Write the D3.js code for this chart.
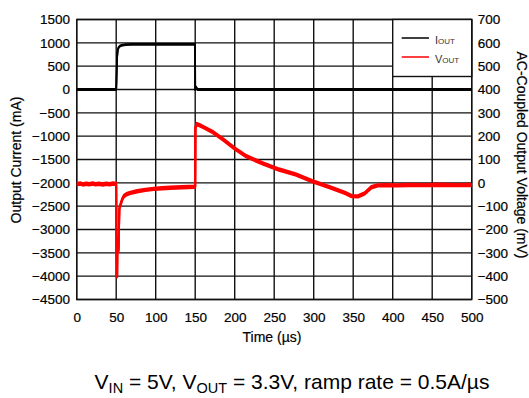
<!DOCTYPE html>
<html>
<head>
<meta charset="utf-8">
<script src="https://cdn.jsdelivr.net/npm/d3@7"></script>
<style>
  html, body { margin: 0; padding: 0; background: #fff; }
  svg { display: block; font-family: "Liberation Sans", Arial, sans-serif; }
</style>
</head>
<body>
<svg id="chart" width="529" height="398"></svg>
<script>
// Axis tick values
const timeTicks = [0, 50, 100, 150, 200, 250, 300, 350, 400, 450, 500];
const currentTicks = [1500, 1000, 500, 0, -500, -1000, -1500, -2000, -2500, -3000, -3500, -4000, -4500];
const voltageTicks = [700, 600, 500, 400, 300, 200, 100, 0, -100, -200, -300, -400, -500];

// Load current I_OUT (mA) versus time (µs)
const ioutTime  = [0, 50, 50.3, 50.8, 51.2, 51.8, 52.5, 53.5, 55, 58, 62, 70, 149.8, 150, 150.6, 151.5, 153, 500];
const ioutValue = [0, 0, 150, 500, 700, 820, 880, 910, 935, 950, 960, 965, 965, 0, 60, 40, 0, 0];

// AC-coupled output voltage V_OUT (mV) versus time (µs)
const voutTime = [
  0, 5, 8, 12, 16, 20, 24, 28, 33, 37, 42, 46, 49.8,
  50, 50.3, 50.6, 51.2, 51.6, 52.2, 53, 53.5, 54, 55.5, 57.5, 59.7, 63, 68, 76.5, 87, 97.5, 108, 118.5, 133, 149.8,
  150, 150.3, 152, 156, 162, 173, 185.4, 200, 214.6, 235.4, 256, 277, 298, 319, 339.6, 348, 356, 364.6, 373, 381,
  390, 406, 420, 440, 460, 480, 500
];
const voutValue = [
  -5, -3, -7, -4, -6, -3, -6, -4, -7, -4, -6, -3, -5,
  -5, -250, -400, -400, -240, -280, -290, -200, -110, -93, -72, -57, -49, -43, -36, -30, -26, -23, -21, -19, -17,
  -17, 238, 252, 246, 236, 216, 186, 147, 114, 83, 57, 36, 7, -17, -43, -57, -58, -45, -19, -11,
  -10, -11, -9, -10, -8, -10, -9
];

const caption = [
  { text: "V", sub: false }, { text: "IN", sub: true },
  { text: " = 5V, V", sub: false }, { text: "OUT", sub: true },
  { text: " = 3.3V, ramp rate = 0.5A/\u00b5s", sub: false }
];

const svg = d3.select("#chart");
const plotLeft = 76.7, plotRight = 471.7, plotTop = 19.5, plotBottom = 299.5;
const gridColor = "#111";
const fontFamily = "\"Liberation Sans\", Arial, sans-serif";

const x  = d3.scaleLinear().domain([0, 500]).range([plotLeft, plotRight]);
const yI = d3.scaleLinear().domain([-4500, 1500]).range([plotBottom, plotTop]);
const yV = d3.scaleLinear().domain([-500, 700]).range([plotBottom, plotTop]);

// Grid
const grid = svg.append("g").attr("stroke", gridColor).attr("stroke-width", 1.4);
grid.selectAll("line.v").data(timeTicks).join("line").attr("class", "v")
  .attr("x1", d => x(d)).attr("x2", d => x(d)).attr("y1", plotTop).attr("y2", plotBottom);
grid.selectAll("line.h").data(currentTicks).join("line").attr("class", "h")
  .attr("x1", plotLeft).attr("x2", plotRight).attr("y1", d => yI(d)).attr("y2", d => yI(d));
grid.append("rect").attr("x", plotLeft).attr("y", plotTop)
  .attr("width", plotRight - plotLeft).attr("height", plotBottom - plotTop).attr("fill", "none");

// Axes (labels only)
function styleAxis(g) {
  g.select(".domain").remove();
  g.attr("font-size", 13.5).attr("font-family", fontFamily);
  g.selectAll("text").attr("fill", "#000").attr("stroke", "#000").attr("stroke-width", 0.2);
}
svg.append("g").attr("transform", `translate(${plotLeft},0)`)
  .call(d3.axisLeft(yI).tickValues(currentTicks).tickSize(0).tickPadding(6.7).tickFormat(d3.format("d")))
  .call(styleAxis);
svg.append("g").attr("transform", `translate(${plotRight},0)`)
  .call(d3.axisRight(yV).tickValues(voltageTicks).tickSize(0).tickPadding(6).tickFormat(d3.format("d")))
  .call(styleAxis);
svg.append("g").attr("transform", `translate(0,${plotBottom})`)
  .call(d3.axisBottom(x).tickValues(timeTicks).tickSize(0).tickPadding(13).tickFormat(d3.format("d")))
  .call(styleAxis);

// Axis titles
const titleStyle = t => t.attr("text-anchor", "middle").attr("font-size", 14)
  .attr("stroke", "#000").attr("stroke-width", 0.2);
svg.append("text").attr("x", 272).attr("y", 342).text("Time (\u00b5s)").call(titleStyle);
svg.append("text").attr("transform", "translate(21,160) rotate(-90)").text("Output Current (mA)").call(titleStyle);
svg.append("text").attr("transform", "translate(516.7,155) rotate(90)").text("AC-Coupled Output Voltage (mV)").call(titleStyle);

// Traces
const ioutLine = d3.line().x((d, i) => x(ioutTime[i])).y(d => yI(d));
const voutLine = d3.line().x((d, i) => x(voutTime[i])).y(d => yV(d));

// V_OUT drawn as a thin line stacked vertically to show the scope noise band
[-1.2, 0, 1.2].forEach(dy => {
  svg.append("path").datum(voutValue)
    .attr("transform", `translate(0,${dy})`)
    .attr("d", voutLine).attr("fill", "none")
    .attr("stroke", "#ff0000").attr("stroke-width", 2).attr("stroke-linejoin", "round");
});
[-0.5, 0.5].forEach(dy => {
  svg.append("path").datum(ioutValue)
    .attr("transform", `translate(0,${dy})`)
    .attr("d", ioutLine).attr("fill", "none")
    .attr("stroke", "#000").attr("stroke-width", 1.8).attr("stroke-linejoin", "round");
});

// Legend
const lg = svg.append("g");
lg.append("rect").attr("x", x(400)).attr("y", plotTop).attr("width", plotRight - x(400)).attr("height", 57)
  .attr("fill", "#fff").attr("stroke", gridColor).attr("stroke-width", 1.4);
const legendItems = [
  { main: "I", sub: "OUT", color: "#000", y: 38 },
  { main: "V", sub: "OUT", color: "#ff0000", y: 57 }
];
legendItems.forEach(it => {
  lg.append("line").attr("x1", 401.7).attr("x2", 429).attr("y1", it.y).attr("y2", it.y)
    .attr("stroke", it.color).attr("stroke-width", 1.5);
  const t = lg.append("text").attr("x", 435).attr("y", it.y + 6).attr("font-size", 11).attr("fill", "#333");
  t.append("tspan").text(it.main);
  t.append("tspan").attr("font-size", 8).text(it.sub);
});

// Caption
const cap = svg.append("text").attr("x", 292).attr("y", 389).attr("text-anchor", "middle")
  .attr("font-size", 21).attr("fill", "#000");
caption.forEach((p, i) => {
  if (p.sub) {
    cap.append("tspan").attr("font-size", 14.5).attr("dy", 4).text(p.text);
  } else {
    cap.append("tspan").attr("dy", i === 0 ? 0 : -4).text(p.text);
  }
});
</script>
</body>
</html>
